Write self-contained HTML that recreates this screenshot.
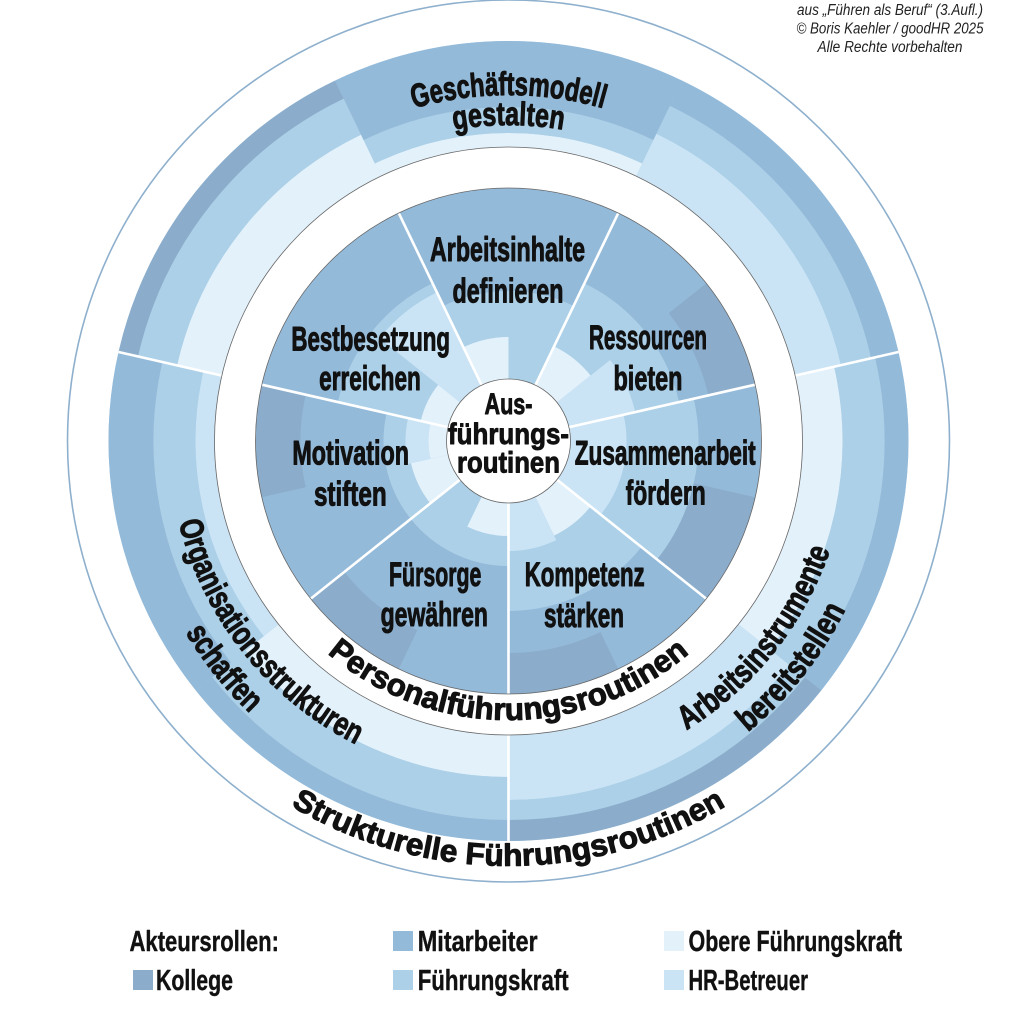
<!DOCTYPE html>
<html><head><meta charset="utf-8"><style>
html,body{margin:0;padding:0;background:#fff}
svg{display:block}
.b{fill:none}
.k{stroke:#8badcb}.m{stroke:#94bada}.f{stroke:#acd0e7}.o{stroke:#e3f1fb}.h{stroke:#cae4f6}
.t{font-family:"Liberation Sans",Arial,sans-serif;font-weight:bold;fill:#111;stroke:#111;stroke-width:1;stroke-linejoin:round}
.lg{stroke-width:0.4}
.c{font-family:"Liberation Sans",Arial,sans-serif;font-style:italic;fill:#222;font-size:15.5px}
</style></head><body>
<svg width="1014" height="1024" viewBox="0 0 1014 1024" xmlns="http://www.w3.org/2000/svg">
<rect width="1014" height="1024" fill="#fff"/>
<g transform="translate(508.5 441)">
<circle r="441" fill="none" stroke="#8eb0cd" stroke-width="1.6"/>
<!-- outer band base -->
<circle class="b f" r="347" stroke-width="106"/>
<!-- T1 -->
<g transform="rotate(192.86)">
<circle class="b o" r="317" stroke-width="46" stroke-dasharray="284.6 3000"/>
<circle class="b f" r="360" stroke-width="40" stroke-dasharray="323.2 3000"/>
<circle class="b k" r="390" stroke-width="20" stroke-dasharray="350.1 3000"/>
</g>
<!-- T2 -->
<g transform="rotate(244.29)">
<circle class="b o" r="301" stroke-width="14" stroke-dasharray="270.2 3000"/>
<circle class="b f" r="321" stroke-width="26" stroke-dasharray="288.1 3000"/>
<circle class="b m" r="367" stroke-width="66" stroke-dasharray="329.4 3000"/>
</g>
<!-- T3 -->
<g transform="rotate(295.71)">
<circle class="b h" r="317.5" stroke-width="47" stroke-dasharray="285 3000"/>
<circle class="b f" r="356.5" stroke-width="31" stroke-dasharray="320 3000"/>
<circle class="b m" r="386" stroke-width="28" stroke-dasharray="346.5 3000"/>
</g>
<!-- R1 -->
<g transform="rotate(-12.86)">
<circle class="b o" r="314" stroke-width="40" stroke-dasharray="281.8 3000"/>
<circle class="b f" r="355" stroke-width="42" stroke-dasharray="318.6 3000"/>
<circle class="b m" r="388" stroke-width="24" stroke-dasharray="348.3 3000"/>
</g>
<!-- R2 -->
<g transform="rotate(38.57)">
<circle class="b h" r="326.5" stroke-width="65" stroke-dasharray="293.1 3000"/>
<circle class="b f" r="369" stroke-width="20" stroke-dasharray="331.2 3000"/>
<circle class="b k" r="389.5" stroke-width="21" stroke-dasharray="349.6 3000"/>
</g>
<!-- L1 -->
<g transform="rotate(90)">
<circle class="b o" r="315" stroke-width="42" stroke-dasharray="282.7 3000"/>
<circle class="b f" r="357.5" stroke-width="43" stroke-dasharray="320.9 3000"/>
<circle class="b m" r="389.5" stroke-width="21" stroke-dasharray="349.6 3000"/>
</g>
<!-- L2 -->
<g transform="rotate(141.43)">
<circle class="b h" r="303.5" stroke-width="19" stroke-dasharray="272.4 3000"/>
<circle class="b f" r="334" stroke-width="42" stroke-dasharray="299.8 3000"/>
<circle class="b m" r="377.5" stroke-width="45" stroke-dasharray="338.8 3000"/>
</g>
<!-- outer dividers -->
<g stroke="#fff" stroke-width="2.6">
<line x1="286.63" y1="-65.42" x2="389.97" y2="-89.01"/>
<line x1="0" y1="294" x2="0" y2="400"/>
<line x1="-286.63" y1="-65.42" x2="-389.97" y2="-89.01"/>
</g>
<circle r="294" fill="none" stroke="#666" stroke-width="0.8"/>

<!-- inner disc -->
<circle r="253" fill="#94bada"/>
<g transform="rotate(244.29)">
<circle class="b f" r="105.5" stroke-width="89" stroke-dasharray="94.7 3000"/>
<circle class="b o" r="82.5" stroke-width="43" stroke-dasharray="37 3000"/>
</g>
<g transform="rotate(-64.29)">
<circle class="b f" r="118" stroke-width="114" stroke-dasharray="105.9 3000"/>
<circle class="b o" r="83" stroke-width="44" stroke-dasharray="37.25 3000"/>
</g>
<g transform="rotate(-38.57)">
<circle class="b h" r="95.5" stroke-width="69" stroke-dasharray="42.86 3000"/>
<circle class="b k" r="229" stroke-width="48" stroke-dasharray="102.8 3000"/>
</g>
<g transform="rotate(-12.86)">
<circle class="b f" r="125.5" stroke-width="129" stroke-dasharray="112.65 3000"/>
<circle class="b h" r="89.5" stroke-width="57" stroke-dasharray="80.3 3000"/>
</g>
<g transform="rotate(12.86)">
<circle class="b k" r="221.5" stroke-width="63" stroke-dasharray="99.4 3000"/>
</g>
<g transform="rotate(38.57)">
<circle class="b f" r="115.5" stroke-width="109" stroke-dasharray="103.7 3000"/>
<circle class="b o" r="83" stroke-width="44" stroke-dasharray="37.25 3000"/>
</g>
<g transform="rotate(64.29)">
<circle class="b h" r="85.5" stroke-width="49" stroke-dasharray="38.37 3000"/>
<circle class="b k" r="232.5" stroke-width="41" stroke-dasharray="104.3 3000"/>
</g>
<g transform="rotate(90)">
<circle class="b f" r="93" stroke-width="64" stroke-dasharray="83.5 3000"/>
<circle class="b o" r="78" stroke-width="34" stroke-dasharray="35 3000"/>
</g>
<g transform="rotate(115.71)">
<circle class="b k" r="231.5" stroke-width="43" stroke-dasharray="103.9 3000"/>
</g>
<g transform="rotate(141.43)">
<circle class="b f" r="93" stroke-width="64" stroke-dasharray="83.5 3000"/>
<circle class="b o" r="80.5" stroke-width="39" stroke-dasharray="36.1 3000"/>
</g>
<g transform="rotate(167.14)">
<circle class="b h" r="91.5" stroke-width="23" stroke-dasharray="41.07 3000"/>
<circle class="b o" r="70.5" stroke-width="19" stroke-dasharray="31.64 3000"/>
<circle class="b k" r="230.5" stroke-width="45" stroke-dasharray="103.45 3000"/>
</g>
<g transform="rotate(192.86)">
<circle class="b f" r="118" stroke-width="114" stroke-dasharray="105.9 3000"/>
<circle class="b o" r="75.5" stroke-width="29" stroke-dasharray="33.9 3000"/>
</g>
<g transform="rotate(218.57)">
<circle class="b h" r="113" stroke-width="104" stroke-dasharray="50.7 3000"/>
</g>
<!-- inner dividers -->
<g stroke="#fff" stroke-width="2.6">
<line x1="0" y1="0" x2="109.77" y2="-227.95"/>
<line x1="0" y1="0" x2="246.66" y2="-56.30"/>
<line x1="0" y1="0" x2="197.80" y2="157.74"/>
<line x1="0" y1="0" x2="0" y2="253"/>
<line x1="0" y1="0" x2="-197.80" y2="157.74"/>
<line x1="0" y1="0" x2="-246.66" y2="-56.30"/>
<line x1="0" y1="0" x2="-109.77" y2="-227.95"/>
</g>
<circle r="253" fill="none" stroke="#666" stroke-width="0.8"/>
<circle r="62" fill="#fff" stroke="#666" stroke-width="0.8"/>

<!-- text paths -->
<defs>
<path id="pS" d="M -425 0 A 425 425 0 0 0 425 0"/>
<path id="pP" d="M -279 0 A 279 279 0 0 0 279 0"/>
<path id="pG1" d="M -346 0 A 346 346 0 0 1 346 0"/>
<path id="pG2" d="M -316 0 A 316 316 0 0 1 316 0"/>
<path id="pO1" d="M -212.61 -266.60 A 341 341 0 0 0 212.61 266.60"/>
<path id="pO2" d="M -234.43 -293.97 A 376 376 0 0 0 234.43 293.97"/>
<path id="pA1" d="M -212.61 266.60 A 341 341 0 0 0 212.61 -266.60"/>
<path id="pA2" d="M -235.06 294.75 A 377 377 0 0 0 235.06 -294.75"/>
</defs>
<text class="t" font-size="31" text-anchor="middle"><textPath href="#pS" startOffset="50%" textLength="457" lengthAdjust="spacingAndGlyphs">Strukturelle Führungsroutinen</textPath></text>
<text class="t" font-size="31" text-anchor="middle"><textPath href="#pP" startOffset="50%" textLength="394" lengthAdjust="spacingAndGlyphs">Personalführungsroutinen</textPath></text>
<text class="t" font-size="33" text-anchor="middle"><textPath href="#pG1" startOffset="50%" textLength="192" lengthAdjust="spacingAndGlyphs">Geschäftsmodell</textPath></text>
<text class="t" font-size="33" text-anchor="middle"><textPath href="#pG2" startOffset="50%" textLength="110" lengthAdjust="spacingAndGlyphs">gestalten</textPath></text>
<text class="t" font-size="33" text-anchor="middle"><textPath href="#pO1" startOffset="50%" textLength="293" lengthAdjust="spacingAndGlyphs">Organisationsstrukturen</textPath></text>
<text class="t" font-size="33" text-anchor="middle"><textPath href="#pO2" startOffset="50%" textLength="104" lengthAdjust="spacingAndGlyphs">schaffen</textPath></text>
<text class="t" font-size="33" text-anchor="middle"><textPath href="#pA1" startOffset="50%" textLength="235" lengthAdjust="spacingAndGlyphs">Arbeitsinstrumente</textPath></text>
<text class="t" font-size="33" text-anchor="middle"><textPath href="#pA2" startOffset="50%" textLength="158" lengthAdjust="spacingAndGlyphs">bereitstellen</textPath></text>
</g>

<!-- inner labels -->
<g class="t" font-size="34" text-anchor="middle">
<text x="507.5" y="261" textLength="155" lengthAdjust="spacingAndGlyphs">Arbeitsinhalte</text>
<text x="508" y="302.5" textLength="111" lengthAdjust="spacingAndGlyphs">definieren</text>
<text x="648" y="349" textLength="118" lengthAdjust="spacingAndGlyphs">Ressourcen</text>
<text x="648" y="390" textLength="69" lengthAdjust="spacingAndGlyphs">bieten</text>
<text x="370.7" y="350.5" textLength="158.7" lengthAdjust="spacingAndGlyphs">Bestbesetzung</text>
<text x="370" y="390" textLength="101.7" lengthAdjust="spacingAndGlyphs">erreichen</text>
<text x="350.7" y="464.5" textLength="116.7" lengthAdjust="spacingAndGlyphs">Motivation</text>
<text x="350.3" y="505.3" textLength="72.7" lengthAdjust="spacingAndGlyphs">stiften</text>
<text x="665.2" y="464.5" textLength="181" lengthAdjust="spacingAndGlyphs">Zusammenarbeit</text>
<text x="665.7" y="504.5" textLength="80" lengthAdjust="spacingAndGlyphs">fördern</text>
<text x="435.2" y="586" textLength="92.3" lengthAdjust="spacingAndGlyphs">Fürsorge</text>
<text x="434.3" y="626" textLength="107.3" lengthAdjust="spacingAndGlyphs">gewähren</text>
<text x="584.7" y="586" textLength="120" lengthAdjust="spacingAndGlyphs">Kompetenz</text>
<text x="584" y="627" textLength="80" lengthAdjust="spacingAndGlyphs">stärken</text>
</g>
<g class="t" font-size="30" text-anchor="middle" style="stroke-width:0.9">
<text x="508.5" y="414" textLength="48" lengthAdjust="spacingAndGlyphs">Aus-</text>
<text x="508.5" y="444" textLength="121" lengthAdjust="spacingAndGlyphs">führungs-</text>
<text x="508.5" y="472.5" textLength="103" lengthAdjust="spacingAndGlyphs">routinen</text>
</g>

<!-- legend -->
<rect x="133" y="970" width="20" height="20" fill="#8badcb"/>
<rect x="393" y="931" width="20" height="20" fill="#94bada"/>
<rect x="393" y="970" width="20" height="20" fill="#acd0e7"/>
<rect x="664" y="931" width="20" height="20" fill="#e3f1fb"/>
<rect x="664" y="970" width="20" height="20" fill="#cae4f6"/>
<g class="t lg" font-size="29">
<text x="129.5" y="951" textLength="149.5" lengthAdjust="spacingAndGlyphs">Akteursrollen:</text>
<text x="156" y="990" textLength="77" lengthAdjust="spacingAndGlyphs">Kollege</text>
<text x="417.7" y="951" textLength="120" lengthAdjust="spacingAndGlyphs">Mitarbeiter</text>
<text x="417.7" y="990" textLength="151" lengthAdjust="spacingAndGlyphs">Führungskraft</text>
<text x="688.5" y="951" textLength="213.5" lengthAdjust="spacingAndGlyphs">Obere Führungskraft</text>
<text x="688.5" y="990" textLength="119.5" lengthAdjust="spacingAndGlyphs">HR-Betreuer</text>
</g>

<!-- credit -->
<g class="c" text-anchor="middle">
<text x="890" y="15" textLength="186" lengthAdjust="spacingAndGlyphs">aus „Führen als Beruf“ (3.Aufl.)</text>
<text x="890" y="33.5" textLength="187" lengthAdjust="spacingAndGlyphs">© Boris Kaehler / goodHR 2025</text>
<text x="890" y="52" textLength="145" lengthAdjust="spacingAndGlyphs">Alle Rechte vorbehalten</text>
</g>
</svg>
</body></html>
